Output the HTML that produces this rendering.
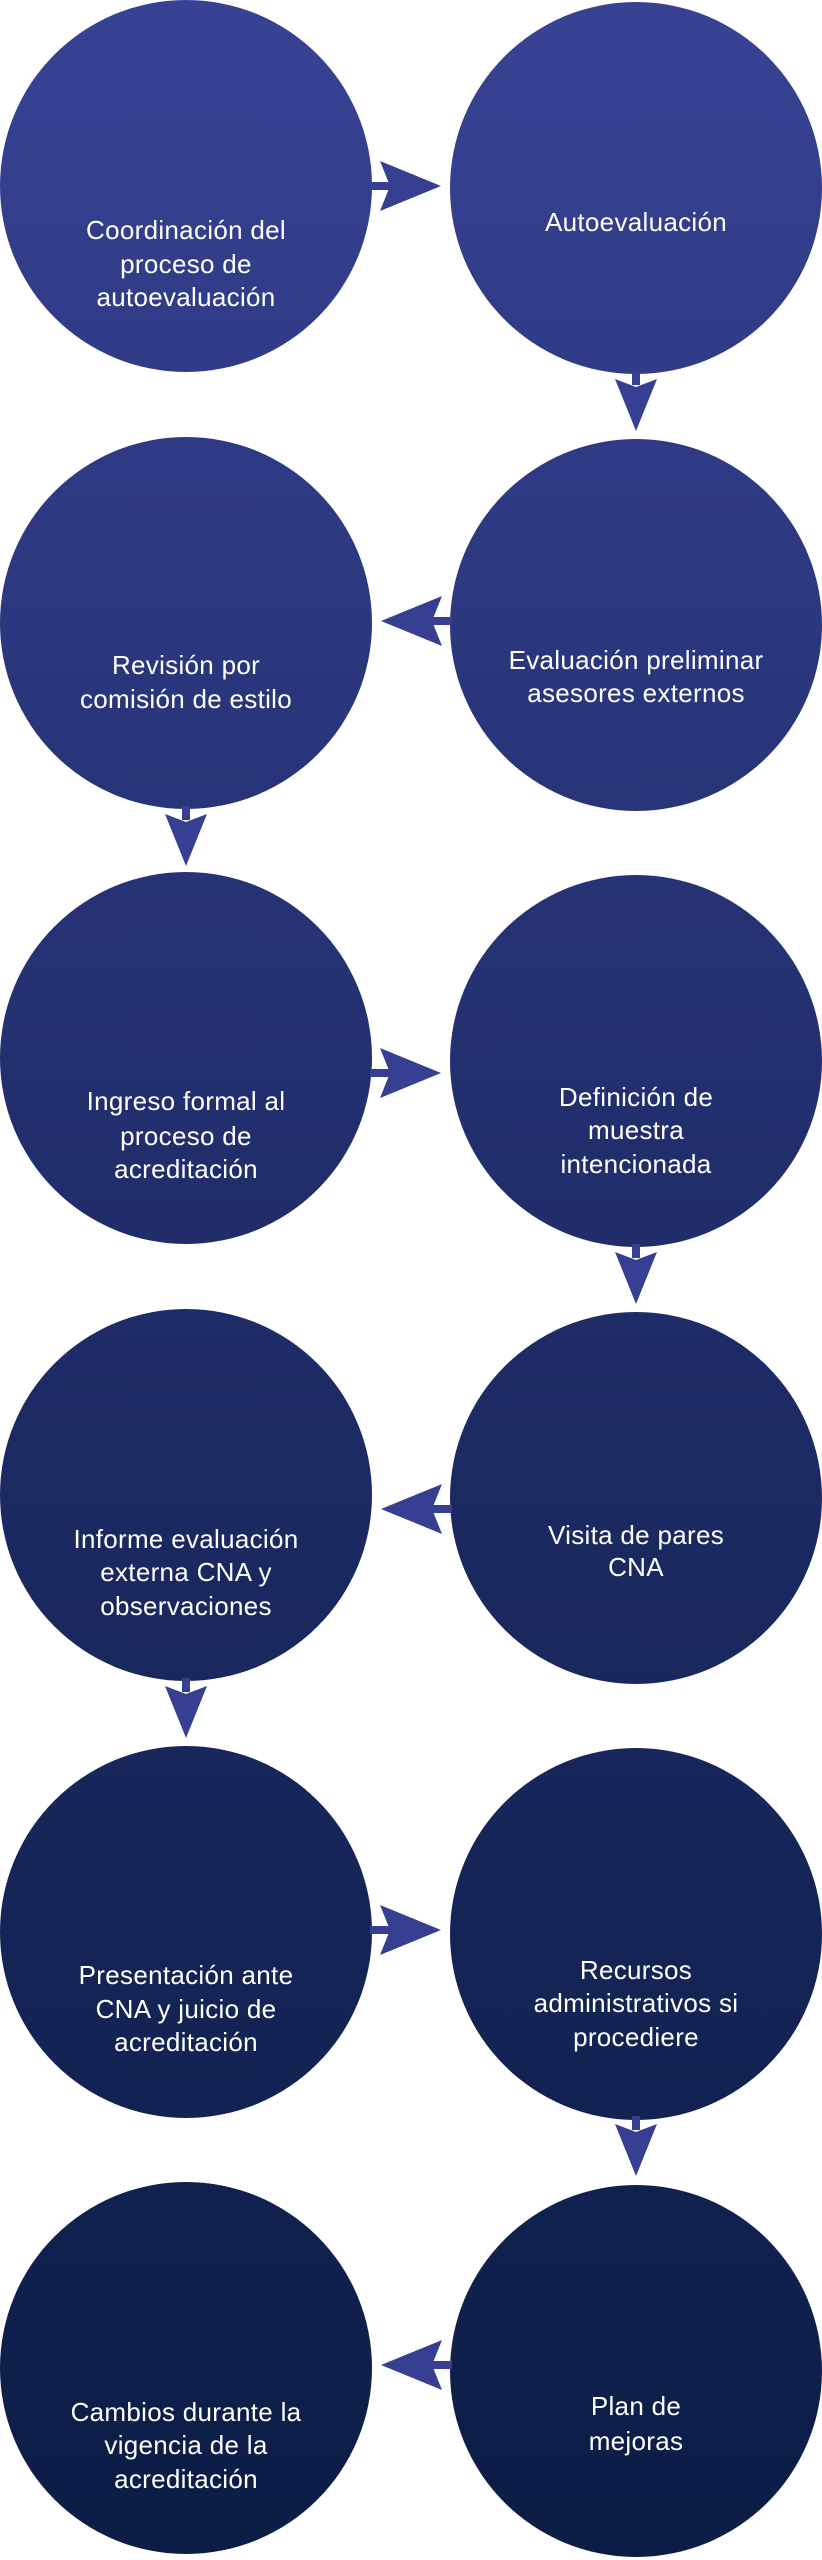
<!DOCTYPE html>
<html><head><meta charset="utf-8"><style>
html,body{margin:0;padding:0;background:#fff;}
svg{display:block}
text{font-family:"Liberation Sans",sans-serif;font-size:26px;fill:#fff;text-anchor:middle;letter-spacing:0.3px}
</style></head><body>
<svg width="822" height="2560" viewBox="0 0 822 2560" xmlns="http://www.w3.org/2000/svg">
<defs>
<linearGradient id="g" gradientUnits="userSpaceOnUse" x1="0" y1="0" x2="0" y2="2560">
<stop offset="0" stop-color="#374293"/>
<stop offset="0.5" stop-color="#1f2c68"/>
<stop offset="1" stop-color="#0b1d45"/>
</linearGradient>
</defs>
<g fill="url(#g)">
<circle cx="186" cy="186" r="186"/><circle cx="636" cy="188" r="186"/>
<circle cx="186" cy="623" r="186"/><circle cx="636" cy="625" r="186"/>
<circle cx="186" cy="1058" r="186"/><circle cx="636" cy="1061" r="186"/>
<circle cx="186" cy="1495" r="186"/><circle cx="636" cy="1498" r="186"/>
<circle cx="186" cy="1932" r="186"/><circle cx="636" cy="1934" r="186"/>
<circle cx="186" cy="2368" r="186"/><circle cx="636" cy="2371" r="186"/>
</g>
<g fill="#363f91">
<!-- right arrows -->
<g transform="translate(0,186)"><rect x="370" y="-4" width="24" height="8"/><polygon points="380,-25 441,0 380,25 390,0"/></g>
<g transform="translate(0,1073)"><rect x="370" y="-4" width="24" height="8"/><polygon points="380,-25 441,0 380,25 390,0"/></g>
<g transform="translate(0,1930)"><rect x="370" y="-4" width="24" height="8"/><polygon points="380,-25 441,0 380,25 390,0"/></g>
<!-- left arrows -->
<g transform="translate(822,621) scale(-1,1)"><rect x="370" y="-4" width="24" height="8"/><polygon points="380,-25 441,0 380,25 390,0"/></g>
<g transform="translate(822,1509) scale(-1,1)"><rect x="370" y="-4" width="24" height="8"/><polygon points="380,-25 441,0 380,25 390,0"/></g>
<g transform="translate(822,2365) scale(-1,1)"><rect x="370" y="-4" width="24" height="8"/><polygon points="380,-25 441,0 380,25 390,0"/></g>
<!-- down arrows -->
<g transform="translate(636,373)"><rect x="-4" y="-2" width="8" height="14"/><polygon points="-21,6 0,58 21,6 0,14"/></g>
<g transform="translate(186,808)"><rect x="-4" y="-2" width="8" height="14"/><polygon points="-21,6 0,58 21,6 0,14"/></g>
<g transform="translate(636,1246)"><rect x="-4" y="-2" width="8" height="14"/><polygon points="-21,6 0,58 21,6 0,14"/></g>
<g transform="translate(186,1680)"><rect x="-4" y="-2" width="8" height="14"/><polygon points="-21,6 0,58 21,6 0,14"/></g>
<g transform="translate(636,2118)"><rect x="-4" y="-2" width="8" height="14"/><polygon points="-21,6 0,58 21,6 0,14"/></g>
</g>
<g>
<text x="186" y="239">Coordinación del</text>
<text x="186" y="273">proceso de</text>
<text x="186" y="306">autoevaluación</text>
<text x="636" y="231">Autoevaluación</text>
<text x="186" y="674">Revisión por</text>
<text x="186" y="708">comisión de estilo</text>
<text x="636" y="669">Evaluación preliminar</text>
<text x="636" y="702">asesores externos</text>
<text x="186" y="1110">Ingreso formal al</text>
<text x="186" y="1145">proceso de</text>
<text x="186" y="1178">acreditación</text>
<text x="636" y="1106">Definición de</text>
<text x="636" y="1139">muestra</text>
<text x="636" y="1173">intencionada</text>
<text x="186" y="1548">Informe evaluación</text>
<text x="186" y="1581">externa CNA y</text>
<text x="186" y="1615">observaciones</text>
<text x="636" y="1544">Visita de pares</text>
<text x="636" y="1576">CNA</text>
<text x="186" y="1984">Presentación ante</text>
<text x="186" y="2018">CNA y juicio de</text>
<text x="186" y="2051">acreditación</text>
<text x="636" y="1979">Recursos</text>
<text x="636" y="2012">administrativos si</text>
<text x="636" y="2046">procediere</text>
<text x="186" y="2421">Cambios durante la</text>
<text x="186" y="2454">vigencia de la</text>
<text x="186" y="2488">acreditación</text>
<text x="636" y="2415">Plan de</text>
<text x="636" y="2450">mejoras</text>
</g>
</svg>
</body></html>
